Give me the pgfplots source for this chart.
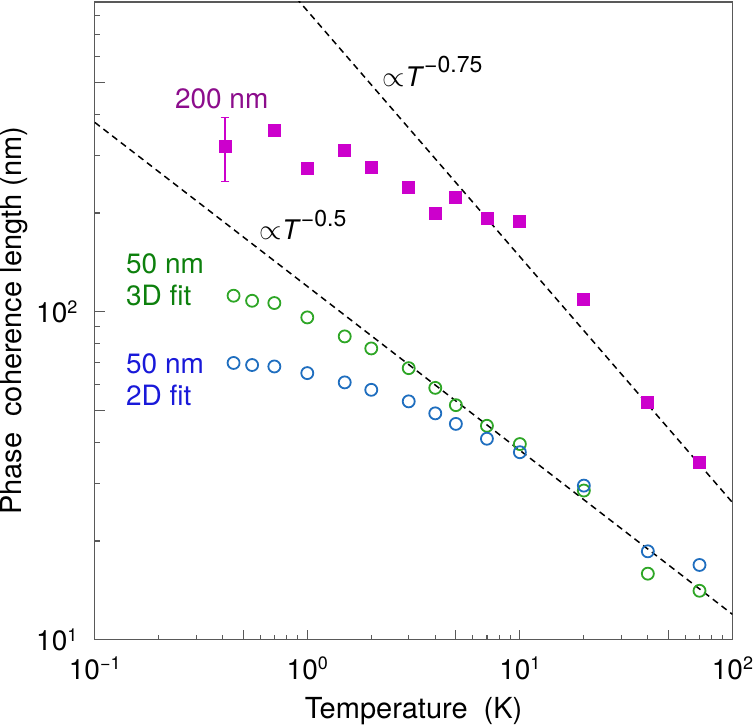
\documentclass[border=0pt]{standalone}
\usepackage{fontspec}
\setmainfont{TeX Gyre Heros}
\usepackage{pgfplots}
\pgfplotsset{compat=1.18}

% tick label 10^n with a larger superscript
\newcommand{\tp}[1]{10\raisebox{4.7pt}{\fontsize{9}{10}\selectfont #1}}

\begin{document}
\begin{tikzpicture}

\definecolor{sqmag}{rgb}{0.8,0,0.8}
\definecolor{txtpurple}{rgb}{0.55,0.05,0.55}
\definecolor{circgreen}{rgb}{0.18,0.65,0.15}
\definecolor{txtgreen}{rgb}{0.05,0.5,0.05}
\definecolor{circblue}{rgb}{0.12,0.43,0.75}
\definecolor{txtblue}{rgb}{0.1,0.1,0.85}
\definecolor{framecol}{rgb}{0.35,0.35,0.35}

\begin{loglogaxis}[
width=319pt, height=319pt, scale only axis,
xmin=0.1, xmax=100,
ymin=10, ymax=880,
axis line style={framecol, line width=0.75pt},
tick align=inside,
xtick pos=bottom, ytick pos=left,
xtick={0.1,0.5,1,5,10,50,100},
xticklabels={{\tp{−1}},,{\tp{0}},,{\tp{1}},,{\tp{2}}},
minor xtick={0.2,0.3,0.4,0.6,0.7,0.8,0.9,2,3,4,6,7,8,9,20,30,40,60,70,80,90},
ytick={10,50,100,500},
yticklabels={{\tp{1}},,{\tp{2}},},
minor ytick={20,30,40,60,70,80,90,200,300,400,600,700,800},
major tick length=5pt, minor tick length=2.5pt,
every tick/.style={framecol, line width=0.6pt},
tick label style={font=\fontsize{14}{16}\selectfont, inner sep=1pt},
yticklabel style={xshift=-7.5pt},
xticklabel style={yshift=-7.4pt},
xlabel={Temperature~~(K)},
ylabel={Phase~~coherence length (nm)},
every axis x label/.style={at={(axis description cs:0.5,-0.1238)}, anchor=base, inner sep=0pt, font=\fontsize{14.5}{16}\selectfont},
every axis y label/.style={at={(axis description cs:-0.127,0.5)}, rotate=90, anchor=center, inner sep=0pt, font=\fontsize{14.5}{16}\selectfont},
]

% power-law guide lines
\addplot [black, line width=0.75pt, dash pattern=on 3.2pt off 2.3pt] coordinates {(0.1,378) (100,11.95)};
\addplot [black, line width=0.75pt, dash pattern=on 3.2pt off 2.3pt] coordinates {(0.1,4650) (100,26.2)};

% 50 nm, 3D fit
\addplot [only marks, mark=o, mark size=3pt, line width=0.9pt, circgreen]
table{%
x y
0.45 111.9
0.55 108.0
0.7 106.3
1 96.1
1.5 84.1
2 77.3
3 67.3
4 58.6
5 51.9
7 44.9
10 39.5
20 28.5
40 15.9
70 14.1
};

% 50 nm, 2D fit
\addplot [only marks, mark=o, mark size=3pt, line width=0.9pt, circblue]
table{%
x y
0.45 69.8
0.55 68.8
0.7 68.1
1 65.0
1.5 60.9
2 57.8
3 53.3
4 49.0
5 45.5
7 41.0
10 37.3
20 29.5
40 18.6
70 16.9
};

% 200 nm
\addplot [only marks, mark=square*, mark size=3pt, sqmag,
  error bars/.cd, y dir=both, y explicit,
  error bar style={line width=0.6pt, sqmag},
  error mark options={rotate=90, mark size=2.2pt, line width=0.6pt, sqmag}]
table[x=x, y=y, y error plus=ep, y error minus=em]{%
x y ep em
0.41 319 71 69
};
\addplot [only marks, mark=square*, mark size=3pt, sqmag]
table{%
x y
0.7 356
1 274
1.5 310
2 276
3 240
4 200
5 223
7 193
10 188
20 109.3
40 53.0
70 34.7
};

\node [anchor=base west, inner sep=0, txtpurple, font=\fontsize{14}{16}\selectfont] at (axis cs:0.2377,418) {200 nm};
\node [anchor=base west, inner sep=0, font=\fontsize{13.5}{15}\selectfont] at (axis cs:2.26,486) {$\propto$\textit{T}\raisebox{6.8pt}{\fontsize{11.5}{12}\selectfont −0.75}};
\node [anchor=base west, inner sep=0, font=\fontsize{13.5}{15}\selectfont] at (axis cs:0.595,165.8) {$\propto$\textit{T}\raisebox{6.8pt}{\fontsize{11.5}{12}\selectfont −0.5}};
\node [anchor=base west, inner sep=0, txtgreen, font=\fontsize{14}{16}\selectfont] at (axis cs:0.14,131.2) {50 nm};
\node [anchor=base west, inner sep=0, txtgreen, font=\fontsize{14}{16}\selectfont] at (axis cs:0.14,104.3) {3D fit};
\node [anchor=base west, inner sep=0, txtblue, font=\fontsize{14}{16}\selectfont] at (axis cs:0.14,64.7) {50 nm};
\node [anchor=base west, inner sep=0, txtblue, font=\fontsize{14}{16}\selectfont] at (axis cs:0.14,51.7) {2D fit};

\end{loglogaxis}
% small margin above the frame, as in the reference
\path (current axis.north) ++(0,1pt);
\end{tikzpicture}
\end{document}
